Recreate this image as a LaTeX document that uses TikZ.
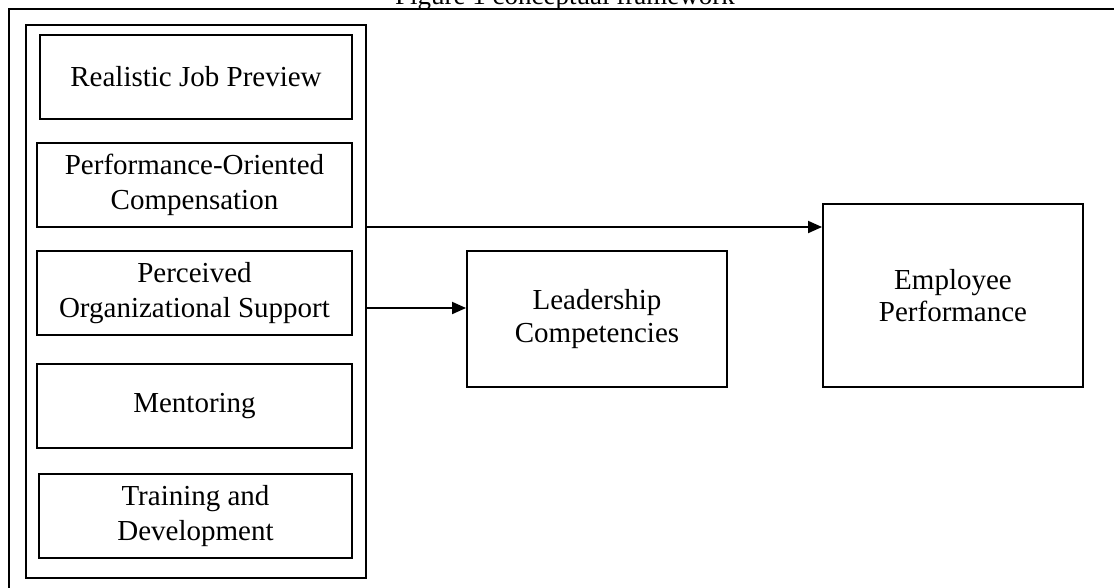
\documentclass[tikz,border=0pt]{standalone}
\usepackage{fontspec}
\setmainfont{Liberation Serif}
\usetikzlibrary{arrows.meta}
\begin{document}
\begin{tikzpicture}[x=1pt,y=-1pt,
  line width=1.9pt,
  lbox/.style={draw, minimum width=313pt, minimum height=84pt, inner sep=0pt, align=center,
    font=\fontsize{29}{35}\selectfont},
  rbox/.style={draw, minimum width=260pt, inner sep=0pt, align=center,
    font=\fontsize{29}{32.5}\selectfont},
  arr/.style={-{Triangle[length=14pt,width=12pt]}, line width=1.9pt}]
\useasboundingbox (0,0) rectangle (1114,587);
% outer frame (extends beyond the image)
\draw (9,600) -- (9,9) -- (1130,9);
\node[anchor=base, font=\fontsize{27}{32}\selectfont, inner sep=0pt] (title) at (565,4) {Figure 1 conceptual framework};
% container
\node[draw, minimum width=340pt, minimum height=553pt, inner sep=0pt] (cont) at (196,301.5) {};
\node[lbox, minimum width=312pt] (b1) at (196,77) {Realistic Job Preview};
\node[lbox, minimum width=315pt] (b2) at (194.5,185) {Performance-Oriented\\Compensation};
\node[lbox, minimum width=315pt] (b3) at (194.5,293) {Perceived\\Organizational Support};
\node[lbox, minimum width=315pt] (b4) at (194.5,406) {Mentoring};
\node[lbox, minimum width=313pt] (b5) at (195.5,516) {Training and\\Development};
\node[rbox, minimum height=136pt] (lead) at (597,319) {Leadership\\Competencies};
\node[rbox, minimum height=183pt] (emp) at (953,295.5) {Employee\\Performance};
\draw[arr] (cont.east |- 0,227) -- (emp.west |- 0,227);
\draw[arr] (cont.east |- 0,308) -- (lead.west |- 0,308);
\end{tikzpicture}
\end{document}
